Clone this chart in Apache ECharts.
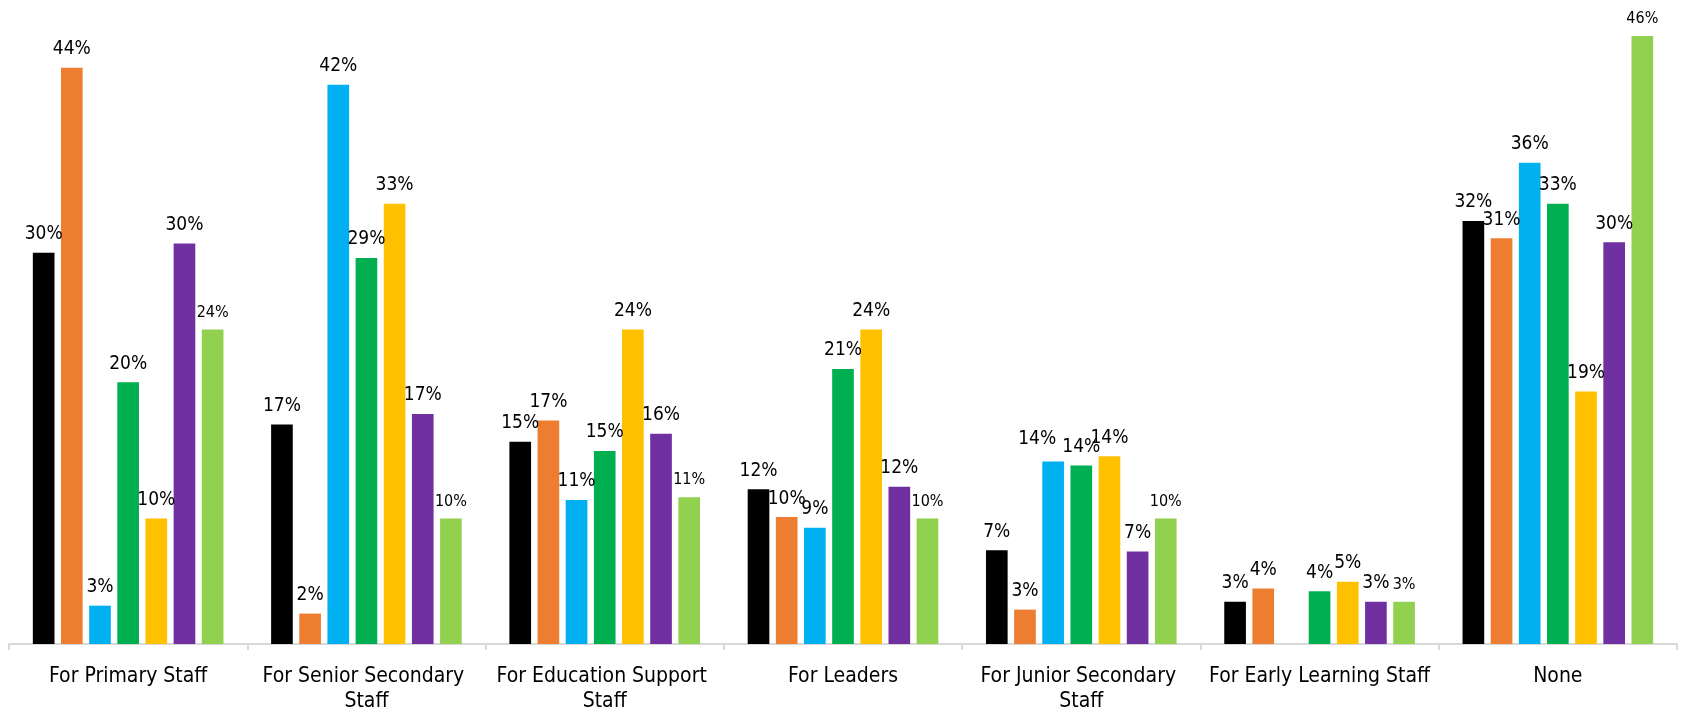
<!DOCTYPE html>
<html>
<head>
<meta charset="utf-8">
<script src="https://cdn.jsdelivr.net/npm/echarts@6/dist/echarts.min.js"></script>
<style>
  html, body { margin: 0; padding: 0; background: #ffffff; }
  #chart { width: 1683px; height: 709px; }
</style>
</head>
<body>
<div id="chart"></div>
<script>
// Categories along the x axis
const categories = [
  'For Primary Staff',
  'For Senior Secondary Staff',
  'For Education Support Staff',
  'For Leaders',
  'For Junior Secondary Staff',
  'For Early Learning Staff',
  'None'
];

// Percentages per group (null = no bar)
const seriesBlack      = [29.6, 16.6, 15.3, 11.7, 7.1, 3.2, 32.0];
const seriesOrange     = [43.6, 2.3, 16.9, 9.6, 2.6, 4.2, 30.7];
const seriesBlue       = [2.9, 42.3, 10.9, 8.8, 13.8, null, 36.4];
const seriesGreen      = [19.8, 29.2, 14.6, 20.8, 13.5, 4.0, 33.3];
const seriesYellow     = [9.5, 33.3, 23.8, 23.8, 14.2, 4.7, 19.1];
const seriesPurple     = [30.3, 17.4, 15.9, 11.9, 7.0, 3.2, 30.4];
const seriesLightGreen = [23.8, 9.5, 11.1, 9.5, 9.5, 3.2, 46.0];

const seriesNames = ['Group A', 'Group B', 'Group C', 'Group D', 'Group E', 'Group F', 'Group G'];

const FONT = '"DejaVu Sans Condensed", "DejaVu Sans", Verdana, sans-serif';

// Labels nudged so neighbouring labels do not collide: [seriesIndex, categoryIndex, dx, dy]
const labelNudges = [[2, 4, -16, -4]];

function buildData(seriesIndex, values) {
  return values.map((v, ci) => {
    const nudge = labelNudges.find(n => n[0] === seriesIndex && n[1] === ci);
    if (v === null) return '-';
    if (!nudge) return v;
    return { value: v, label: { offset: [nudge[2], nudge[3]] } };
  });
}

function makeSeries(idx, data, color, labelSize) {
  return {
    name: seriesNames[idx],
    type: 'bar',
    data: buildData(idx, data),
    barGap: '30%',
    barCategoryGap: '20%',
    itemStyle: { color: color },
    label: {
      show: true,
      position: 'top',
      distance: 9,
      color: '#000000',
      fontFamily: FONT,
      fontSize: labelSize,
      formatter: p => Math.round(p.value) + '%'
    }
  };
}

const chart = echarts.init(document.getElementById('chart'), null, { renderer: 'canvas' });

chart.setOption({
  animation: false,
  backgroundColor: '#ffffff',
  grid: { left: 9, right: 6, top: 9.5, bottom: 65, containLabel: false, outerBoundsMode: 'none' },
  xAxis: {
    type: 'category',
    data: categories,
    axisLine: { show: true, lineStyle: { color: '#d9d9d9', width: 2 } },
    axisTick: { show: true, length: 6, lineStyle: { color: '#d9d9d9', width: 2 } },
    axisLabel: {
      color: '#000000',
      fontFamily: FONT,
      fontSize: 21,
      lineHeight: 25,
      margin: 20,
      width: 225,
      overflow: 'break',
      interval: 0
    }
  },
  yAxis: {
    type: 'value',
    min: 0,
    max: 48,
    show: false,
    splitLine: { show: false }
  },
  series: [
    makeSeries(0, seriesBlack, '#000000', 19),
    makeSeries(1, seriesOrange, '#ED7D31', 19),
    makeSeries(2, seriesBlue, '#00B0F0', 19),
    makeSeries(3, seriesGreen, '#00B050', 19),
    makeSeries(4, seriesYellow, '#FFC000', 19),
    makeSeries(5, seriesPurple, '#7030A0', 19),
    makeSeries(6, seriesLightGreen, '#92D050', 16)
  ]
});
</script>
</body>
</html>
